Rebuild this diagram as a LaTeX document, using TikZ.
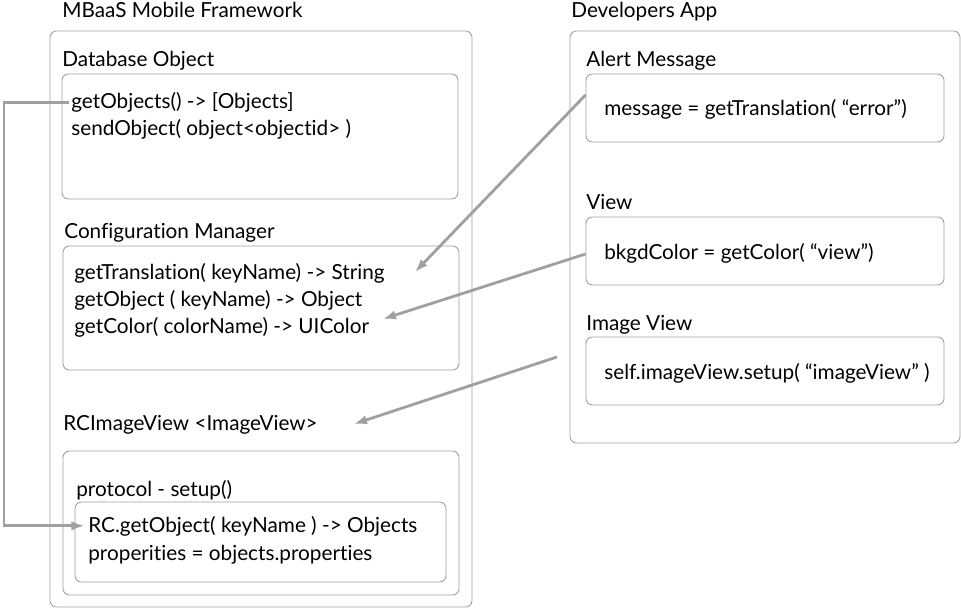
\documentclass[tikz,border=0pt]{standalone}
\usepackage{fontspec}
\setmainfont{Lato}[Ligatures={NoCommon,NoContextual}]
\usetikzlibrary{arrows.meta,calc,fit}
\definecolor{framegray}{RGB}{158,158,158}
\definecolor{arrowgray}{RGB}{160,160,160}
\tikzset{
  panel/.style={draw=framegray,line width=0.5pt,rounded corners=0.13cm,inner sep=0pt},
  txt/.style={anchor=base west,inner sep=0pt,font=\fontsize{11.8}{14}\selectfont},
  link/.style={draw=arrowgray,line width=1.6pt,-{Latex[length=0.26cm,width=0.19cm]}}
}

\begin{document}
\begin{tikzpicture}[x=0.02cm,y=-0.02cm]
  \useasboundingbox (0,0) rectangle (961,608);
  \begin{scope}
    % framework side
    \node[txt](fwtitle)at(62,18){MBaaS Mobile Framework};
    \node[panel,fit={(50,31) (472,607)}](fw){};
    \node[txt](dbtitle)at(62,67){Database Object};
    \node[panel,fit={(62,74) (458,199)}](db){};
    \node[txt](getobj)at(71,109){getObjects() -> [Objects]};
    \node[txt](sendobj)at(71,136){sendObject( object<objectid> )};
    \node[txt](cfgtitle)at(64,238){Configuration Manager};
    \node[panel,fit={(63,246) (459,370)}](cfg){};
    \node[txt](gettr)at(74,279){getTranslation( keyName) -> String};
    \node[txt](getob)at(74,306){getObject ( keyName) -> Object};
    \node[txt](getcol)at(74,333){getColor( colorName) -> UIColor};
    \node[txt](rctitle)at(63,430){RCImageView <ImageView>};
    \node[panel,fit={(63,451) (459,595)}](rc){};
    \node[txt](proto)at(76,496){protocol - setup()};
    \node[panel,fit={(75,502) (446,582)}](setup){};
    \node[txt](rcget)at(88,532){RC.getObject( keyName ) -> Objects};
    \node[txt](props)at(88,560){properities = objects.properties};
  \end{scope}
  \begin{scope}
    % app side
    \node[txt](apptitle)at(571,18){Developers App};
    \node[panel,fit={(570,31) (960,443)}](app){};
    \node[txt](alerttitle)at(586,67){Alert Message};
    \node[panel,fit={(586,74) (944,142)}](alert){};
    \node[txt](msg)at(604,116){message = getTranslation( “error”)};
    \node[txt](viewtitle)at(586,210){View};
    \node[panel,fit={(586,217) (944,285)}](view){};
    \node[txt](bkgd)at(604,259){bkgdColor = getColor( “view”)};
    \node[txt](imgtitle)at(586,330){Image View};
    \node[panel,fit={(586,337) (944,405)}](img){};
    \node[txt](imgsetup)at(604,379){self.imageView.setup( “imageView” )};
  \end{scope}
  % arrow ends
  \coordinate(trtip)at(415,272);
  \coordinate(coltip)at(383,319);
  \coordinate(imgstart)at(557,357);
  \coordinate(rctip)at(354,424);
  \draw[link]($(alert.west)+(0,-13)$)--(trtip);
  \draw[link]($(view.west)+(0,3)$)--(coltip);
  \draw[link](imgstart)--(rctip);
  \draw[link,shorten >=2pt](getobj.west)++(-2,0)--(4,0|-getobj.west)|-(rcget.west);
\end{tikzpicture}
\end{document}
